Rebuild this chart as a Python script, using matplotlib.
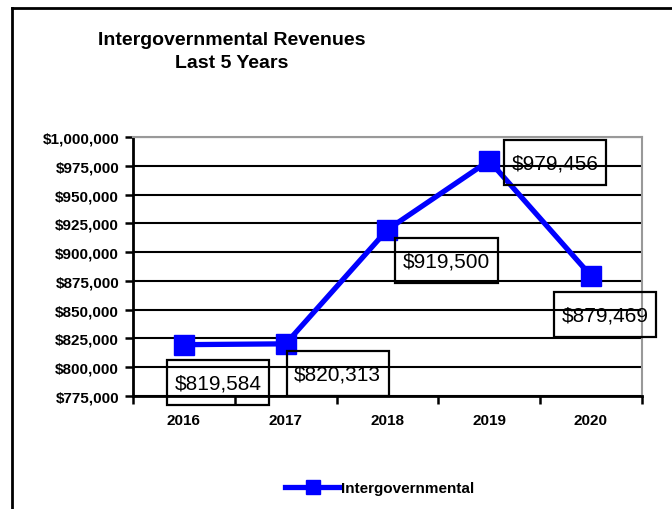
import matplotlib.pyplot as plt
from matplotlib.lines import Line2D
from matplotlib.path import Path
from matplotlib.ticker import FuncFormatter

plt.rcParams['font.family'] = ['Liberation Sans', 'DejaVu Sans']

# Intergovernmental revenues by year
years = ['2016', '2017', '2018', '2019', '2020']
revenues = [819584, 820313, 919500, 979456, 879469]

# where each value label sits relative to its point (pixels)
label_offsets = [(34, -38), (52, -30), (59, -31), (66, -2), (14, -39)]


def tall_box(x0, y0, width, height, mutation_size):
    # square box, with more room above and below the text than at the sides
    px = 0.36 * mutation_size
    py = 0.62 * mutation_size
    x0, y0 = x0 - px, y0 - py
    x1, y1 = x0 + width + 2 * px, y0 + height + 2 * py
    return Path([(x0, y0), (x1, y0), (x1, y1), (x0, y1), (x0, y0)],
                closed=True)


fig = plt.figure(figsize=(6.72, 5.1), dpi=100)
ax = fig.add_axes([0.198, 0.2216, 0.757, 0.5078])

x = list(range(len(years)))
ax.plot(x, revenues, color='#0000ff', linewidth=3.8, marker='s',
        markersize=14.5, label='Intergovernmental', zorder=3)

for xi, val, (dx, dy) in zip(x, revenues, label_offsets):
    ax.annotate('${:,}'.format(val), (xi, val), xytext=(dx, dy),
                textcoords='offset pixels', ha='center', va='center',
                fontsize=15,
                bbox=dict(boxstyle=tall_box, fc='none',
                          ec='black', lw=1.6),
                zorder=4)

ax.set_ylim(775000, 1000000)
ax.set_yticks(range(775000, 1000001, 25000))
ax.yaxis.set_major_formatter(FuncFormatter(lambda v, p: '${:,.0f}'.format(v)))
ax.grid(axis='y', color='black', linewidth=1.5)
ax.set_axisbelow(True)

# category labels between tick marks
ax.set_xlim(-0.5, len(years) - 0.5)
ax.set_xticks([i - 0.5 for i in range(len(years) + 1)])
ax.set_xticklabels([])
ax.set_xticks(x, minor=True)
ax.set_xticklabels(years, minor=True)
ax.tick_params(axis='x', which='minor', length=0, pad=12)
ax.tick_params(axis='x', which='major', length=6, width=1.8)
ax.tick_params(axis='y', length=6, width=1.8, pad=4)
for lab in ax.get_xticklabels(minor=True) + ax.get_yticklabels():
    lab.set_fontweight('bold')
    lab.set_fontsize(11)

ax.spines['left'].set_linewidth(2)
ax.spines['bottom'].set_linewidth(2)
ax.spines['top'].set_color('#999999')
ax.spines['right'].set_color('#999999')
ax.spines['top'].set_linewidth(1.5)
ax.spines['right'].set_linewidth(1.5)

fig.text(232 / 672, 1 - 52 / 510, 'Intergovernmental Revenues\nLast 5 Years',
         ha='center', va='center', fontsize=14, fontweight='bold',
         linespacing=1.5)

leg = fig.legend(loc='center', bbox_to_anchor=(0.565, 1 - 489 / 510),
                 frameon=False, handlelength=3.6, handletextpad=0.05,
                 prop={'weight': 'bold', 'size': 11}, markerscale=0.65)

# outer chart border (left and top edges)
fig.add_artist(Line2D([12 / 672, 12 / 672], [0, 1 - 9 / 510],
                      color='black', linewidth=2))
fig.add_artist(Line2D([12 / 672, 1], [1 - 9 / 510, 1 - 9 / 510],
                      color='black', linewidth=2))

fig.savefig('out.png', dpi=100)
